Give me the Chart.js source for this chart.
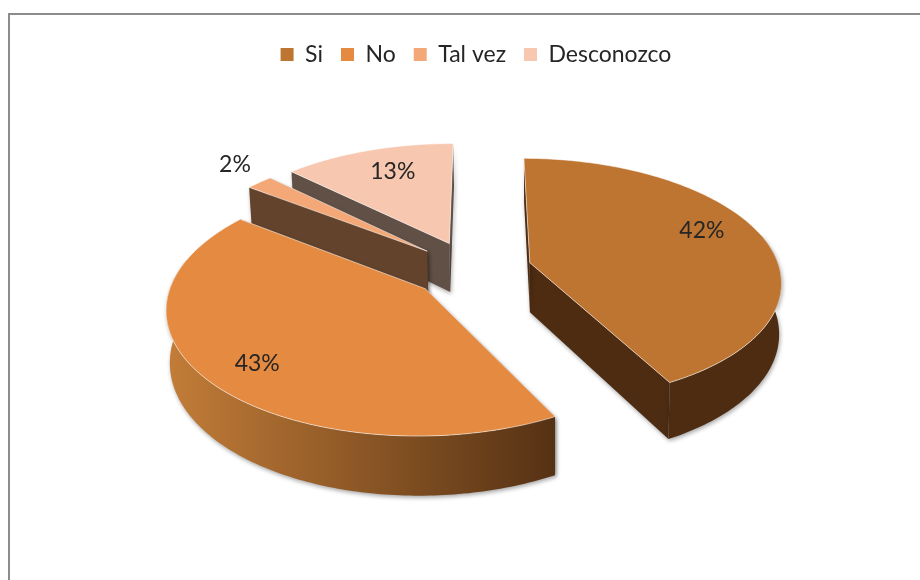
<!DOCTYPE html>
<html>
<head>
<meta charset="utf-8">
<style>
  html, body { margin: 0; background: #fff; overflow: hidden; }
  #frame { position: absolute; left: 8px; top: 13px; width: 1000px; height: 700px; border: 2px solid #8c8c8c; }
  #wrap { position: absolute; left: 0; top: 0; width: 920px; height: 580px; filter: blur(0.4px); }
</style>
</head>
<body>
<div id="frame"></div>
<div id="wrap"><canvas id="chart" width="920" height="580"></canvas></div>
<script src="https://cdn.jsdelivr.net/npm/chart.js@4"></script>
<script>
const categories = ['Si', 'No', 'Tal vez', 'Desconozco'];
const values = [42.2, 42.9, 2, 12.9];
const topColors = ['#bf7532', '#e58a41', '#f4a877', '#f7c7af'];
const wallColors = ['#4d2c12', '#6a4020', '#63432c', '#615045'];
const labelReach = [0.72, 0.72, 1.22, 0.72];
const labelShift = [[4, -12], [-15, 11], [9, -4], [4, -3]];

// tilted view of the pie, fitted by eye
const view = { cx: 472, cy: 269.5, squash: 0.483, persp: 0.14, depth: 50, sinkX: 540, sink: 0.01 };
const drawOrder = [3, 2, 1, 0];

function project(wx, wy, R, z) {
  const s = 1 / (1 - view.persp * wy / R);
  const x = view.cx + wx * s;
  return { x: x + (view.sinkX - x) * view.sink * z / view.depth, y: view.cy + (view.squash * wy + z) * s };
}

function slicePoint(el, a, r, z) {
  const mid = (el.startAngle + el.endAngle) / 2;
  const off = el.options.offset;
  return project(r * Math.cos(a) + off * Math.cos(mid), r * Math.sin(a) + off * Math.sin(mid), el.outerRadius, z);
}

function arcPoints(el, z, reverse) {
  const n = Math.max(4, Math.round((el.endAngle - el.startAngle) * 60));
  const pts = [];
  for (let i = 0; i <= n; i++) {
    const a = el.startAngle + (el.endAngle - el.startAngle) * i / n;
    pts.push({ a: a, p: slicePoint(el, a, el.outerRadius, z) });
  }
  return reverse ? pts.reverse() : pts;
}

function fillPoly(ctx, pts, fill) {
  ctx.beginPath();
  pts.forEach((p, i) => i ? ctx.lineTo(p.x, p.y) : ctx.moveTo(p.x, p.y));
  ctx.closePath();
  ctx.fillStyle = fill;
  ctx.fill();
}

const pie3d = {
  id: 'pie3d',
  beforeDatasetDraw(chart, args) {
    const ctx = chart.ctx;
    const els = args.meta.data;
    drawOrder.forEach(i => {
      const el = els[i];
      const R = el.outerRadius;
      const apexTop = slicePoint(el, 0, 0, 0);
      const apexLow = slicePoint(el, 0, 0, view.depth);
      let wall = wallColors[i];
      if (i === 1) {
        const g = ctx.createLinearGradient(165, 0, 552, 0);
        g.addColorStop(0, '#c37d38');
        g.addColorStop(1, '#563214');
        wall = g;
      }
      ctx.save();
      ctx.shadowColor = 'rgba(0,0,0,0.35)';
      ctx.shadowBlur = 4;
      ctx.shadowOffsetX = 1;
      ctx.shadowOffsetY = 2;
      [el.endAngle, el.startAngle].forEach(a => {
        fillPoly(ctx, [apexTop, slicePoint(el, a, R, 0), slicePoint(el, a, R, view.depth), apexLow], wallColors[i]);
      });
      // back of the rim is hidden, keep just past the silhouette
      const front = q => Math.sin(q.a) > -0.25;
      const rim = arcPoints(el, 0).filter(front).concat(arcPoints(el, view.depth, true).filter(front));
      if (rim.length) fillPoly(ctx, rim.map(q => q.p), wall);
      ctx.restore();

      fillPoly(ctx, [apexTop].concat(arcPoints(el, 0).map(q => q.p)), topColors[i]);
      ctx.strokeStyle = 'rgba(255,255,255,0.55)';
      ctx.lineWidth = 1;
      ctx.stroke();
    });
    return false;
  },
  afterDatasetsDraw(chart) {
    const ctx = chart.ctx;
    const els = chart.getDatasetMeta(0).data;
    const total = values.reduce((a, b) => a + b, 0);
    ctx.save();
    ctx.font = '23px Lato';
    ctx.fillStyle = '#262626';
    ctx.textAlign = 'center';
    ctx.textBaseline = 'middle';
    els.forEach((el, i) => {
      const mid = (el.startAngle + el.endAngle) / 2;
      const p = slicePoint(el, mid, el.outerRadius * labelReach[i], 0);
      ctx.fillText(Math.round(values[i] / total * 100) + '%', p.x + labelShift[i][0], p.y + labelShift[i][1]);
    });
    ctx.restore();
  }
};

new Chart(document.getElementById('chart'), {
  type: 'pie',
  plugins: [pie3d],
  data: {
    labels: categories,
    datasets: [{ data: values, backgroundColor: topColors, borderWidth: 0, offset: 60 }]
  },
  options: {
    responsive: false,
    animation: false,
    radius: 250,
    rotation: 0.3,
    layout: { padding: { left: 32, top: 25 } },
    plugins: {
      tooltip: { enabled: false },
      legend: {
        position: 'top',
        labels: { boxWidth: 13, boxHeight: 13, padding: 18, color: '#262626', font: { family: 'Lato', size: 23 } }
      }
    }
  }
});
</script>
</body>
</html>
